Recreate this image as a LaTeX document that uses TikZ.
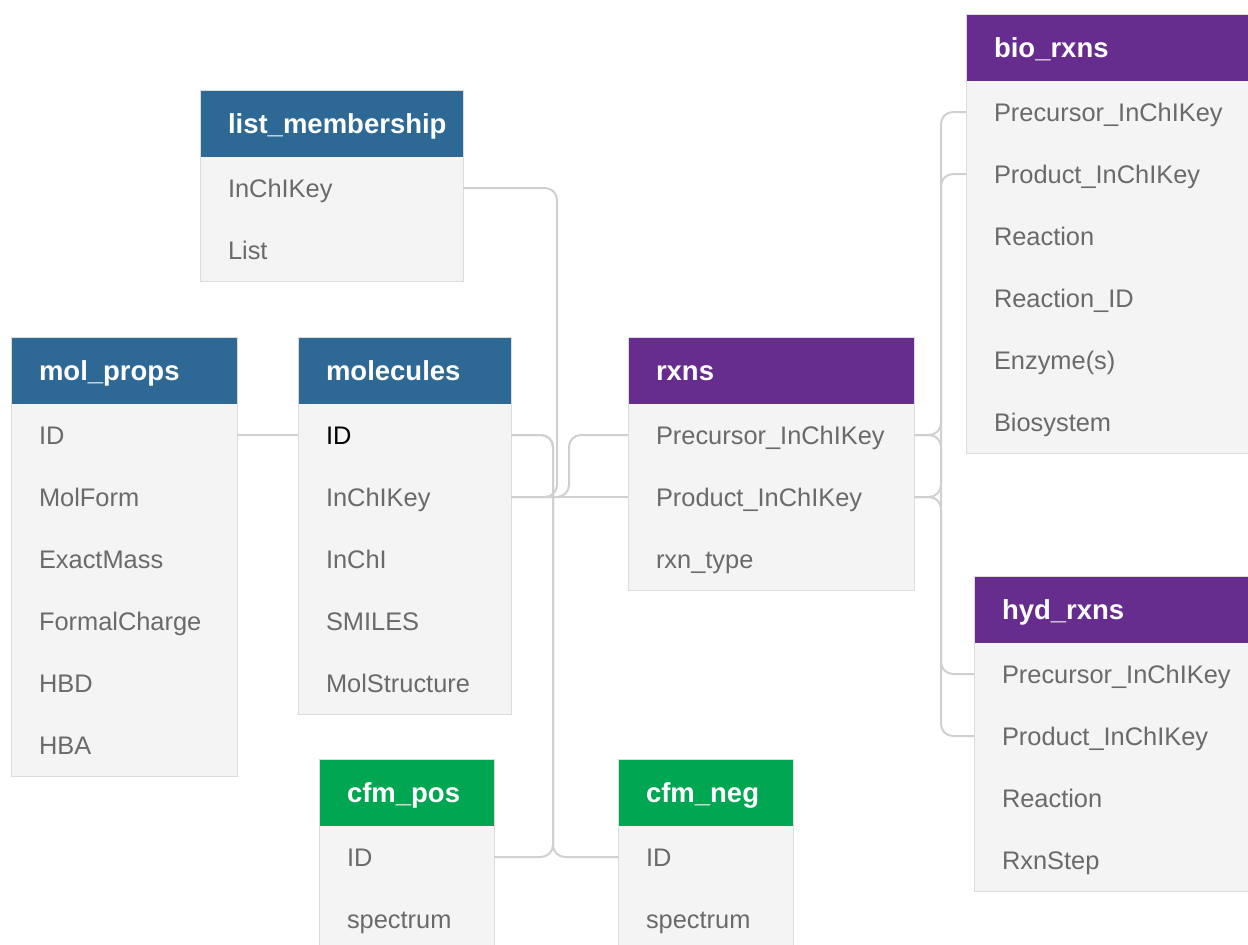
\documentclass[tikz,border=0pt]{standalone}
\usepackage{fontspec}
\setmainfont{Liberation Sans}
\usetikzlibrary{calc}
\definecolor{hblue}{HTML}{2E6894}
\definecolor{hpurple}{HTML}{662D8F}
\definecolor{hgreen}{HTML}{00A651}
\definecolor{rowfill}{HTML}{F4F4F4}
\definecolor{rowtext}{HTML}{6A6A6A}
\definecolor{edgecol}{HTML}{DCDCDC}
\definecolor{conncol}{HTML}{D0D0D0}
\tikzset{
  rowbox/.style={fill=rowfill, text=rowtext, font=\fontsize{25.4}{30}\selectfont,
    inner xsep=28pt, inner ysep=0pt, minimum height=62pt, text height=18pt, text depth=0pt,
    align=left, outer sep=0pt, anchor=north west},
  hdrbox/.style={text=white, font=\bfseries\fontsize{27.5}{32}\selectfont,
    inner xsep=28pt, inner ysep=0pt, minimum height=67pt, text height=19.5pt, text depth=0pt,
    align=left, outer sep=0pt, anchor=north west},
  tblborder/.style={draw=edgecol, line width=1pt},
  conn/.style={draw=conncol, line width=2pt, rounded corners=12pt},
}
% name, x0, y0, width, color, title, rows, nrows
\newcommand{\dbtable}[8]{%
  \pgfmathsetmacro{\tw}{#4-56}%
  \node[hdrbox, fill=#5, minimum width=#4pt, text width=\tw pt] (#1-h) at (#2,#3) {#6};
  \foreach \r [count=\i] in {#7} {
    \node[rowbox, minimum width=#4pt, text width=\tw pt] (#1-\i) at ({#2},{#3+67+62*(\i-1)}) {\r};
  }
  \draw[tblborder] (#1-h.north west) rectangle (#1-#8.south east);
}
\begin{document}
\begin{tikzpicture}[x=1pt,y=-1pt]
\useasboundingbox (0,0) rectangle (1248,945);
\fill[white] (0,0) rectangle (1248,945);

\coordinate (busA) at (557,0);
\coordinate (busB) at (553,0);
\coordinate (busC) at (569,0);
\coordinate (busR) at (941,0);

\dbtable{lm}{200}{90}{263}{hblue}{list\_membership}{InChIKey, List}{2}
\dbtable{mp}{11}{337}{226}{hblue}{mol\_props}{ID, MolForm, ExactMass, FormalCharge, HBD, HBA}{6}
\dbtable{mol}{298}{337}{213}{hblue}{molecules}{{\textcolor{black}{ID}}, InChIKey, InChI, SMILES, MolStructure}{5}
\dbtable{rx}{628}{337}{286}{hpurple}{rxns}{Precursor\_InChIKey, Product\_InChIKey, rxn\_type}{3}
\dbtable{bio}{966}{14}{286}{hpurple}{bio\_rxns}{Precursor\_InChIKey, Product\_InChIKey, Reaction, Reaction\_ID, Enzyme(s), Biosystem}{6}
\dbtable{hyd}{974}{576}{278}{hpurple}{hyd\_rxns}{Precursor\_InChIKey, Product\_InChIKey, Reaction, RxnStep}{4}
\dbtable{cfmp}{319}{759}{175}{hgreen}{cfm\_pos}{ID, spectrum}{2}
\dbtable{cfmn}{618}{759}{175}{hgreen}{cfm\_neg}{ID, spectrum}{2}

% connectors
\draw[conn] (mp-1.east) -- (mol-1.west);
\draw[conn] (lm-1.east) -- (lm-1.east -| busA) -- (mol-2.east -| busA) -- (mol-2.east);
\draw[conn] (mol-1.east) -- (mol-1.east -| busB) -- (cfmp-1.east -| busB) -- (cfmp-1.east);
\draw[conn] (mol-1.east) -- (mol-1.east -| busB) -- (cfmn-1.west -| busB) -- (cfmn-1.west);
\draw[conn] (rx-1.west) -- (rx-1.west -| busC) -- (mol-2.east -| busC) -- (mol-2.east);
\draw[conn] (rx-2.west) -- (mol-2.east);
\draw[conn] (rx-1.east) -- (rx-1.east -| busR) -- (bio-1.west -| busR) -- (bio-1.west);
\draw[conn] (rx-2.east) -- (rx-2.east -| busR) -- (bio-2.west -| busR) -- (bio-2.west);
\draw[conn] (rx-1.east) -- (rx-1.east -| busR) -- (hyd-1.west -| busR) -- (hyd-1.west);
\draw[conn] (rx-2.east) -- (rx-2.east -| busR) -- (hyd-2.west -| busR) -- (hyd-2.west);
\end{tikzpicture}
\end{document}
